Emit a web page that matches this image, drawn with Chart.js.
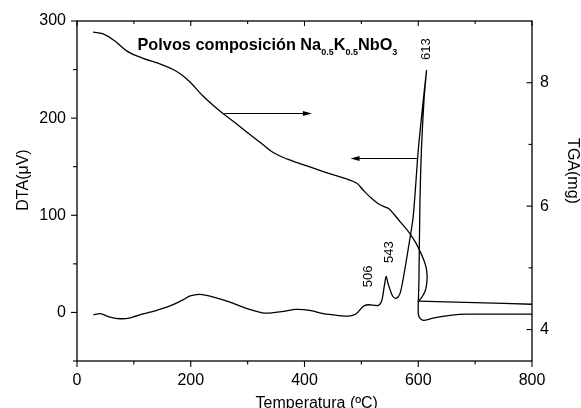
<!DOCTYPE html>
<html><head><meta charset="utf-8">
<script src="https://cdn.jsdelivr.net/npm/chart.js@4.4.1/dist/chart.umd.min.js"></script>
<style>html,body{margin:0;padding:0;background:#fff}#wrap{width:581px;height:408px}</style>
</head><body><div id="wrap"><canvas id="c" width="581" height="408"></canvas></div>
<script>
// ---- data ----
const dtaTemp = [29,41,58,76,94,116,129,158,175,188,199,216,240,269,299,328,345,363,385,409,433,460,477,491,503,512,530,536,540,543.5,547,553,557,562,568,573,582,591,600,607,614.5,610,605.5,603,601.2,600.2,600,602,608.8,626,656,685,800];
const dtaValues = [-2.4,-1.3,-4.8,-6.5,-5.5,-1.5,0.3,5.5,9.5,13.5,17,18.6,15.8,10.6,3.8,-0.7,-0.3,1.0,3.1,2.1,-1.3,-3.2,-3.8,-1.3,6.2,7.9,7.2,12.4,26,37,29.6,19.3,15.5,14.7,19.6,33,64,98,167,208,249,218,167,115,33,12,-1,-5,-8.2,-5.9,-3.1,-1.8,-1.8];
const tgaTemp = [28.5,46,66,90,115,150,170,185,200,222,250,278,300,325,345,370,392,433,474,492,503,515,528,538,548,558,568,585,596,604,610,614,615.5,615,612,606,601,600,700,800];
const tgaValues = [8.82,8.79,8.68,8.50,8.40,8.29,8.21,8.12,8.00,7.78,7.55,7.35,7.19,7.01,6.87,6.76,6.69,6.56,6.44,6.37,6.26,6.15,6.05,6.00,5.96,5.86,5.75,5.56,5.40,5.25,5.12,5.00,4.88,4.75,4.62,4.52,4.465,4.46,4.435,4.41];
const xTicks = [0,200,400,600,800];
const xMinorTicks = [100,300,500,700];
const dtaTicks = [0,100,200,300];
const dtaMinorTicks = [-50,50,150,250];
const tgaTicks = [4,6,8];
const tgaMinorTicks = [5,7];
const peakLabels = ['506','543','613'];
const peakTemps = [512,550,614.6];
const peakDta = [37,62,271];
// arrows (temperature from, temperature to, DTA level)
const arrowFrom = [259,599];
const arrowTo = [413,481];
const arrowLevel = [205,158.5];

const FONT = '"Liberation Sans", Arial, Helvetica, sans-serif';
Chart.defaults.color = '#000';
Chart.defaults.font.family = FONT;

const decor = {
  id: 'decor',
  afterDraw(chart) {
    const {ctx, chartArea: a, scales} = chart;
    const x = scales.x, y = scales.y, y2 = scales.y2;
    ctx.save();
    ctx.strokeStyle = '#000';
    ctx.fillStyle = '#000';
    ctx.lineWidth = 1.3;
    ctx.strokeRect(a.left, a.top, a.right - a.left, a.bottom - a.top);
    ctx.lineWidth = 1.1;
    const line = (x1,y1,x2,y2_) => { ctx.beginPath(); ctx.moveTo(x1,y1); ctx.lineTo(x2,y2_); ctx.stroke(); };
    // x ticks: bottom outward, top inward
    xTicks.forEach(v => { const p = x.getPixelForValue(v); line(p,a.bottom,p,a.bottom+6); line(p,a.top,p,a.top+5); });
    xMinorTicks.forEach(v => { const p = x.getPixelForValue(v); line(p,a.bottom,p,a.bottom+3.5); line(p,a.top,p,a.top+3); });
    // left ticks outward
    dtaTicks.forEach(v => { const p = y.getPixelForValue(v); line(a.left-6,p,a.left,p); });
    dtaMinorTicks.forEach(v => { const p = y.getPixelForValue(v); line(a.left-4,p,a.left,p); });
    // right ticks inward
    tgaTicks.forEach(v => { const p = y2.getPixelForValue(v); line(a.right-5.5,p,a.right,p); });
    tgaMinorTicks.forEach(v => { const p = y2.getPixelForValue(v); line(a.right-3.5,p,a.right,p); });

    // arrows
    ctx.lineWidth = 1;
    arrowFrom.forEach((t0,i) => {
      const x0 = x.getPixelForValue(t0), x1 = x.getPixelForValue(arrowTo[i]);
      const yy = Math.round(y.getPixelForValue(arrowLevel[i])) + 0.5;
      const dir = Math.sign(x1 - x0);
      line(x0, yy, x1 - dir*8, yy);
      ctx.beginPath(); ctx.moveTo(x1, yy); ctx.lineTo(x1 - dir*9, yy-2.6); ctx.lineTo(x1 - dir*9, yy+2.6); ctx.closePath(); ctx.fill();
    });

    // peak labels
    ctx.font = '13px ' + FONT;
    ctx.textAlign = 'center'; ctx.textBaseline = 'middle';
    peakLabels.forEach((s,i) => {
      ctx.save();
      ctx.translate(x.getPixelForValue(peakTemps[i]), y.getPixelForValue(peakDta[i]));
      ctx.rotate(-Math.PI/2);
      ctx.fillText(s, 0, 0);
      ctx.restore();
    });

    // title with subscripts
    ctx.textAlign = 'left'; ctx.textBaseline = 'alphabetic';
    const parts = [
      ['Polvos composición Na', 16.3, 0], ['0.5', 9, 5.5], ['K', 16.3, 0], ['0.5', 9, 5.5], ['NbO', 16.3, 0], ['3', 9, 5.5]
    ];
    let tx = a.left + 60.5;
    const base = 49.5;
    parts.forEach(([s, size, dy]) => {
      ctx.font = 'bold ' + size + 'px ' + FONT;
      ctx.fillText(s, tx, base + dy);
      tx += ctx.measureText(s).width;
    });

    // axis titles
    ctx.font = '16px ' + FONT;
    ctx.textAlign = 'center'; ctx.textBaseline = 'alphabetic';
    ctx.fillText('Temperatura (ºC)', x.getPixelForValue(421.6), 407.5);
    ctx.textBaseline = 'middle';
    ctx.save(); ctx.translate(24, 180); ctx.rotate(-Math.PI/2); ctx.fillText('DTA(μV)', 0, 0); ctx.restore();
    ctx.save(); ctx.translate(572, 171); ctx.rotate(Math.PI/2); ctx.fillText('TGA(mg)', 0, 0); ctx.restore();
    ctx.restore();
  }
};

new Chart(document.getElementById('c'), {
  type: 'scatter',
  data: {
    datasets: [
      { label: 'DTA', data: dtaTemp.map((t,i)=>({x:t, y:dtaValues[i]})), yAxisID: 'y',
        showLine: true, borderColor: '#000', borderWidth: 1.3, pointRadius: 0, tension: 0.25, fill: false },
      { label: 'TGA', data: tgaTemp.map((t,i)=>({x:t, y:tgaValues[i]})), yAxisID: 'y2',
        showLine: true, borderColor: '#000', borderWidth: 1.3, pointRadius: 0, tension: 0.4, fill: false }
    ]
  },
  options: {
    responsive: false, animation: false, devicePixelRatio: 1,
    layout: { padding: { top: 21, left: 0, right: 0, bottom: 0 } },
    plugins: { legend: { display: false }, tooltip: { enabled: false }, title: { display: false } },
    scales: {
      x: { type: 'linear', position: 'bottom', min: 0, max: 800,
        afterBuildTicks: s => { s.ticks = xTicks.map(v => ({value: v})); },
        afterFit: s => { s.height = 47; },
        grid: { display: false, drawTicks: false }, border: { display: false },
        ticks: { font: { size: 16 }, color: '#000', padding: 10, maxRotation: 0, autoSkip: false } },
      y: { type: 'linear', position: 'left', min: -50, max: 300,
        afterBuildTicks: s => { s.ticks = dtaTicks.map(v => ({value: v})); },
        afterFit: s => { s.width = 77; },
        grid: { display: false, drawTicks: false }, border: { display: false },
        ticks: { font: { size: 16 }, color: '#000', padding: 11, autoSkip: false } },
      y2: { type: 'linear', position: 'right', min: 3.49, max: 9.0,
        afterBuildTicks: s => { s.ticks = tgaTicks.map(v => ({value: v})); },
        afterFit: s => { s.width = 49; },
        grid: { display: false, drawTicks: false }, border: { display: false },
        ticks: { font: { size: 16 }, color: '#000', padding: 8, autoSkip: false } }
    }
  },
  plugins: [decor]
});
</script>
</body></html>
